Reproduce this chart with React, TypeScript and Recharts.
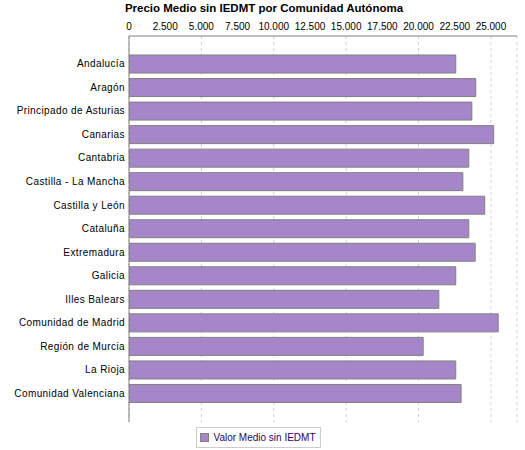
import React from 'react';
import { BarChart, Bar, XAxis, YAxis, CartesianGrid, Legend } from 'recharts';

const categories = [
  'Andalucía',
  'Aragón',
  'Principado de Asturias',
  'Canarias',
  'Cantabria',
  'Castilla - La Mancha',
  'Castilla y León',
  'Cataluña',
  'Extremadura',
  'Galicia',
  'Illes Balears',
  'Comunidad de Madrid',
  'Región de Murcia',
  'La Rioja',
  'Comunidad Valenciana',
];

const valorMedio = [
  22570, 23950, 23680, 25190, 23470, 23060, 24570, 23470, 23910, 22570, 21400, 25500, 20320, 22570, 22940,
];

const xTicks = [0, 2500, 5000, 7500, 10000, 12500, 15000, 17500, 20000, 22500, 25000];

const seriesName = 'Valor Medio sin IEDMT';
const title = 'Precio Medio sin IEDMT por Comunidad Autónoma';

const data = categories.map((name, i) => ({ name, value: valorMedio[i] }));

const fmt = (v: number) => v.toLocaleString('de-DE');

const FONT = '"Liberation Sans", Arial, sans-serif';

const CategoryTick = (props: any) => {
  const { x, y, payload } = props;
  return (
    <text
      x={x}
      y={y}
      dy="0.355em"
      textAnchor="end"
      fill="#000"
      fontSize={10}
      fontFamily={FONT}
      letterSpacing={0.4}
    >
      {payload.value}
    </text>
  );
};

const LegendContent = () => (
  <div style={{ display: 'flex', justifyContent: 'center', paddingTop: 5 }}>
    <div
      style={{
        display: 'flex',
        alignItems: 'center',
        border: '1px solid #cccccc',
        height: 19,
        padding: '0 4px 0 3px',
        fontFamily: FONT,
        fontSize: 10,
        color: '#330066',
      }}
    >
      <span
        style={{
          display: 'inline-block',
          width: 7,
          height: 7,
          background: '#a586c8',
          border: '1px solid #808080',
          marginRight: 4,
        }}
      />
      <span>{seriesName}</span>
    </div>
  </div>
);

export default function App() {
  return (
    <div style={{ position: 'absolute', left: 0, top: 0, width: 525, height: 450, background: '#fff' }}>
      <div
        style={{
          position: 'absolute',
          left: 0,
          top: 2,
          width: 528,
          textAlign: 'center',
          fontFamily: FONT,
          fontWeight: 'bold',
          fontSize: 11.5,
          lineHeight: '13px',
          color: '#000',
        }}
      >
        {title}
      </div>
      <BarChart
        width={525}
        height={450}
        data={data}
        layout="vertical"
        margin={{ top: 14, right: 8, bottom: 2, left: 0 }}
      >
        <CartesianGrid
          horizontal={false}
          vertical={true}
          stroke="#d0d0d0"
          strokeDasharray="3 3"
        />
        <XAxis
          type="number"
          orientation="top"
          domain={[0, 26800]}
          ticks={xTicks}
          tickFormatter={fmt}
          height={22}
          tickLine={false}
          tickSize={0}
          tickMargin={6}
          axisLine={{ stroke: '#808080' }}
          tick={{ fill: '#000', fontSize: 10, fontFamily: FONT }}
          allowDataOverflow
        />
        <YAxis
          type="category"
          dataKey="name"
          width={129}
          tickLine={false}
          tickSize={0}
          tickMargin={4}
          interval={0}
          padding={{ top: 16, bottom: 17 }}
          axisLine={{ stroke: '#808080' }}
          tick={<CategoryTick />}
        />
        <Legend verticalAlign="bottom" content={<LegendContent />} />
        <Bar
          dataKey="value"
          name={seriesName}
          fill="#a586c8"
          stroke="#808080"
          strokeWidth={1}
          barSize={18}
          isAnimationActive={false}
        />
      </BarChart>
    </div>
  );
}
